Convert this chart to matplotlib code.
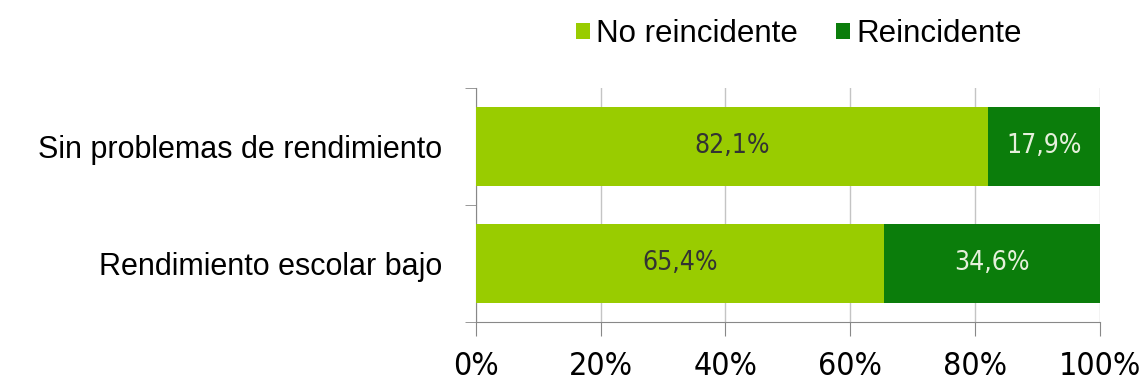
import numpy as np
import matplotlib.pyplot as plt
from matplotlib.ticker import FixedLocator

plt.rcParams['font.family'] = ['Liberation Sans', 'DejaVu Sans']

# datos de reincidencia por rendimiento escolar
categorias = ['Sin problemas de rendimiento', 'Rendimiento escolar bajo']
no_reincidente = [82.1, 65.4]
reincidente = [17.9, 34.6]
ticks_x = [0, 20, 40, 60, 80, 100]

verde_claro = '#99cc00'
verde_oscuro = '#0b7d0b'
estrecha = dict(family='DejaVu Sans', stretch='condensed')

fig = plt.figure(figsize=(11.41, 3.87), dpi=100)
ax = fig.add_axes([0.417, 0.168, 0.547, 0.605])

pos = np.arange(len(categorias))[::-1]
b1 = ax.barh(pos, no_reincidente, height=0.68, color=verde_claro, label='No reincidente', zorder=3)
b2 = ax.barh(pos, reincidente, left=no_reincidente, height=0.68, color=verde_oscuro,
             label='Reincidente', zorder=3)

# etiquetas de porcentaje dentro de las barras
for barras, vals, col in [(b1, no_reincidente, '#333333'), (b2, reincidente, '#e6f0dc')]:
    for r, v in zip(barras, vals):
        ax.text(r.get_x() + r.get_width() / 2, r.get_y() + r.get_height() / 2,
                ('%.1f%%' % v).replace('.', ','), ha='center', va='center',
                fontsize=19, color=col, zorder=4, **estrecha)

ax.set_xlim(0, 100)
ax.set_ylim(-0.5, 1.5)
ax.set_xticks(ticks_x)
ax.set_xticklabels(['%d%%' % t for t in ticks_x], fontsize=23, **estrecha)
ax.set_yticks(pos)
ax.set_yticklabels(categorias, fontsize=22)
ax.yaxis.set_minor_locator(FixedLocator([-0.5, 0.5, 1.5]))
ax.tick_params(axis='y', which='major', length=0, pad=24)
ax.tick_params(axis='y', which='minor', length=8, color='#888888')
ax.tick_params(axis='x', length=10, color='#888888', pad=11)

ax.grid(axis='x', color='#c4c4c4', linewidth=1, zorder=0)
for s in ['top', 'right']:
    ax.spines[s].set_visible(False)
for s in ['left', 'bottom']:
    ax.spines[s].set_color('#888888')

fig.legend(handles=[b1, b2], loc='center', bbox_to_anchor=(0.70, 0.912), ncol=2,
           frameon=False, fontsize=22.5, handlelength=0.45, handleheight=0.45,
           handletextpad=0.2, columnspacing=1.2)

fig.savefig('out.png', dpi=100)
